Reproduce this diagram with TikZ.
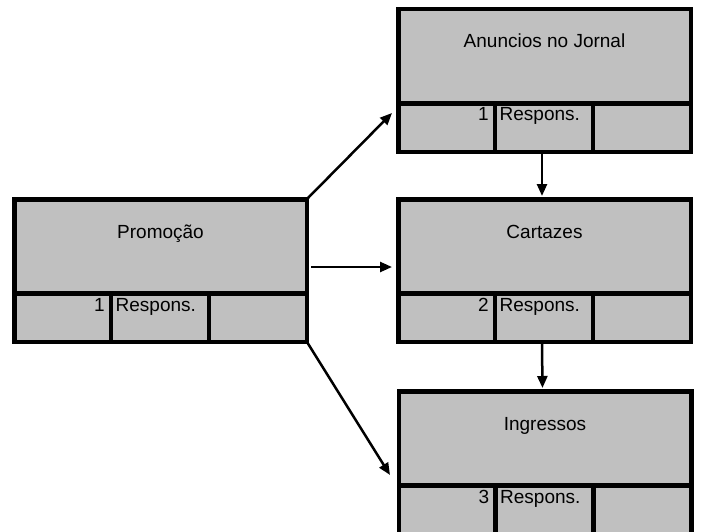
\documentclass[tikz,border=0pt]{standalone}
\usepackage{fontspec}
\setmainfont{Liberation Sans}
\usetikzlibrary{arrows.meta,calc}
\definecolor{boxgray}{HTML}{C0C0C0}
\tikzset{
  taskbox/.style={draw=black, line width=4.5pt, fill=boxgray, minimum width=292.5pt,
    minimum height=142.5pt, inner sep=0pt, anchor=north west},
  inner/.style={line width=4.5pt, line cap=butt},
  title/.style={font=\fontsize{19}{21}\selectfont, inner sep=0pt, anchor=base},
  cell/.style={font=\fontsize{19}{21}\selectfont, inner sep=0pt},
  arr/.style={line width=2.5pt, -{Triangle[length=12pt,width=10pt]}}
}
\newcommand{\mytask}[5]{%
  \node[taskbox] (#1) at (#2,#3) {};
  \draw[inner] ([xshift=2pt,yshift=-96.5pt]#1.north west) -- ([xshift=-2pt,yshift=-96.5pt]#1.north east);
  \draw[inner] ([xshift=99pt,yshift=-96.5pt]#1.north west) -- ([xshift=99pt,yshift=2pt]#1.south west);
  \draw[inner] ([xshift=197pt,yshift=-96.5pt]#1.north west) -- ([xshift=197pt,yshift=2pt]#1.south west);
  \node[title] (#1-t) at ([yshift=-41pt]#1.north) {#4};
  \node[cell, anchor=base east] (#1-n) at ([xshift=93pt,yshift=-114pt]#1.north west) {#5};
  \node[cell, anchor=base west] (#1-r) at ([xshift=103.5pt,yshift=-114pt]#1.north west) {Respons.};
}
\begin{document}
\begin{tikzpicture}[x=1pt,y=-1pt]
\useasboundingbox (0,0) rectangle (701,532);
\mytask{prom}{12}{197}{Promoção}{1}
\mytask{anun}{396}{7}{Anuncios no Jornal}{1}
\mytask{cart}{396}{197}{Cartazes}{2}
\mytask{ingr}{396.5}{389}{Ingressos}{3}
\draw[arr] ([xshift=-2pt,yshift=-2pt]prom.north east) -- ([xshift=-4pt,yshift=41pt]anun.south west);
\draw[arr, shorten <=2pt, shorten >=4pt] ([yshift=3.5pt]prom.east) -- ([yshift=3.5pt]cart.west);
\draw[arr] ([xshift=-2pt,yshift=2pt]prom.south east) -- ([xshift=-6.5pt,yshift=-86pt]ingr.north west);
\draw[arr, shorten >=1pt] ([xshift=-2.5pt]anun.south) -- ([xshift=-2.5pt]cart.north);
\draw[arr, shorten >=1pt] ([xshift=-2.5pt]cart.south) -- ([xshift=-2.5pt]ingr.north);
\end{tikzpicture}
\end{document}
